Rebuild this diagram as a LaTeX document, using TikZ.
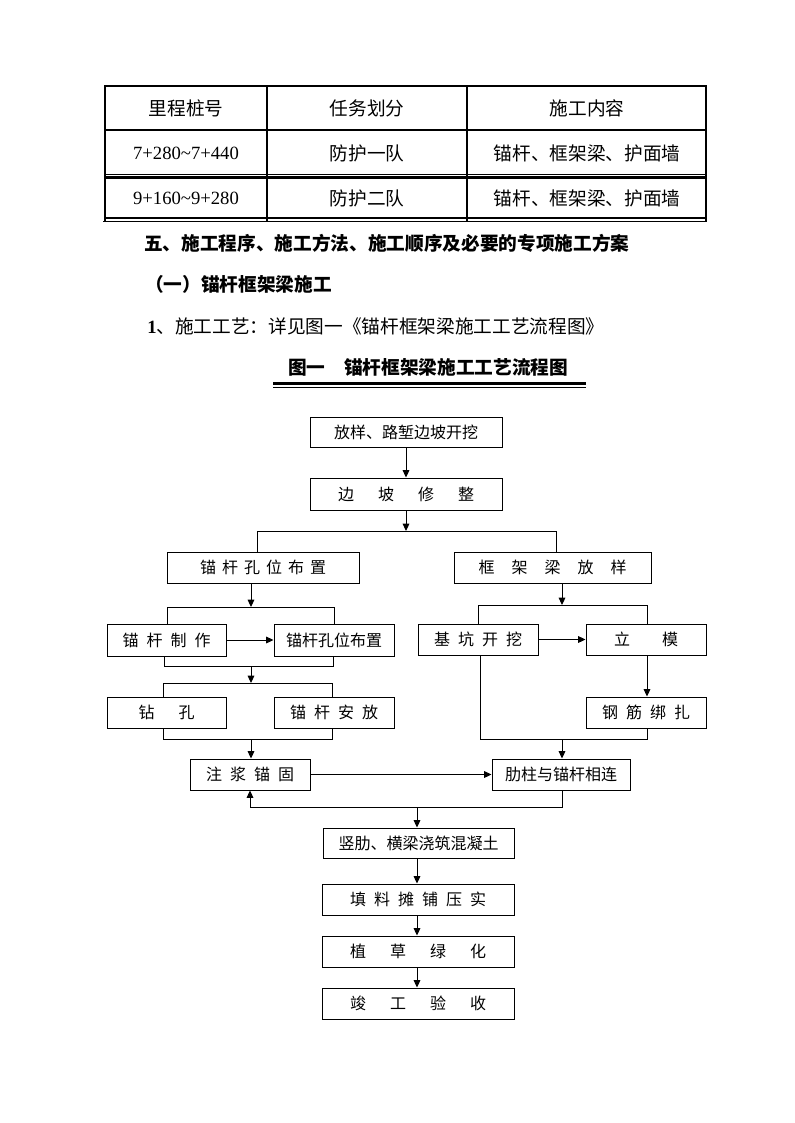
\documentclass[tikz,border=0pt]{standalone}
\usepackage{fontspec}
\setmainfont{Liberation Serif}
\newfontfamily\cjk{Noto Sans CJK SC}
\usetikzlibrary{arrows.meta,calc}
\begin{document}
\begin{tikzpicture}[x=0.75pt,y=-0.75pt,
  box/.style={draw,line width=0.75pt,inner sep=0pt,minimum height=23.25pt,font=\cjk\fontsize{12}{14}\selectfont},
  ln/.style={line width=0.75pt},
  arr/.style={line width=0.75pt,-{Triangle[length=5.5pt,width=5pt]}},
  tcell/.style={inner sep=0pt,font=\cjk\fontsize{14}{16}\selectfont},
  tnum/.style={inner sep=0pt,font=\rmfamily\fontsize{14}{16}\selectfont},
  thick1/.style={line width=1.6pt},
  thin1/.style={line width=0.7pt},
  head/.style={anchor=west,inner sep=0pt,font=\cjk\bfseries\fontsize{14}{16}\selectfont},
]
\useasboundingbox[fill=white] (0,0) rectangle (794,1123);

% ---------------- table ----------------
\draw[thick1] (105,86) -- (706,86);
\draw[thick1] (105,130) -- (706,130);
\draw[thin1] (105,174) -- (706,174);
\draw[thick1] (105,177.5) -- (706,177.5);
\draw[thick1] (105,218) -- (706,218);
\draw[thin1] (103,221.5) -- (706.8,221.5);
\foreach \xx in {105,267,467,706} \draw[thick1] (\xx,85.2) -- (\xx,221.5);

\node[tcell] (t11) at (186,108) {里程桩号};
\node[tcell] (t12) at (367,108) {任务划分};
\node[tcell] (t13) at (587,108) {施工内容};
\node[tnum] (t21) at (186,153) {7+280\textasciitilde7+440};
\node[tcell] (t22) at (367,153) {防护一队};
\node[tcell] (t23) at (587,153) {锚杆、框架梁、护面墙};
\node[tnum] (t31) at (186,198) {9+160\textasciitilde9+280};
\node[tcell] (t32) at (367,198) {防护二队};
\node[tcell] (t33) at (587,198) {锚杆、框架梁、护面墙};

% ---------------- headings ----------------
\node[head] (h1) at (144,243) {五、施工程序、施工方法、施工顺序及必要的专项施工方案};
\node[head] (h2) at (145,284) {（一）锚杆框架梁施工};
\node[anchor=west,inner sep=0pt,font=\cjk\fontsize{14}{16}\selectfont] (h3) at (147,326) {{\rmfamily\bfseries 1}、施工工艺：详见图一《锚杆框架梁施工工艺流程图》};
\node[inner sep=0pt,font=\cjk\bfseries\fontsize{14}{16}\selectfont] (title) at (428,367) {图一\hspace{14pt}锚杆框架梁施工工艺流程图};
\draw[line width=2.2pt] (273,383.5) -- (586,383.5);
\draw[line width=0.75pt] (273,387.8) -- (586,387.8);

% ---------------- flowchart boxes ----------------
\node[box,minimum width=144pt,minimum height=22.5pt] (b1) at (406,432) {放样、路堑边坡开挖};
\node[box,minimum width=144pt,minimum height=24pt] (b2) at (406,494) {边\hspace{18pt}坡\hspace{18pt}修\hspace{18pt}整};
\node[box,minimum width=144pt] (b3) at (263,567.5) {锚\hspace{4.5pt}杆\hspace{4.5pt}孔\hspace{4.5pt}位\hspace{4.5pt}布\hspace{4.5pt}置};
\node[box,minimum width=147.75pt] (b4) at (552.5,567.5) {框\hspace{12.75pt}架\hspace{12.75pt}梁\hspace{12.75pt}放\hspace{12.75pt}样};
\node[box,minimum width=89.25pt,minimum height=24pt] (b5) at (166.5,640) {锚\hspace{6pt}杆\hspace{6pt}制\hspace{6pt}作};
\node[box,minimum width=90pt,minimum height=24pt] (b6) at (334,640) {锚杆孔位布置};
\node[box,minimum width=89.25pt] (b7) at (166.5,712.5) {钻\hspace{18pt}孔};
\node[box,minimum width=90pt] (b8) at (334,712.5) {锚\hspace{6pt}杆\hspace{6pt}安\hspace{6pt}放};
\node[box,minimum width=90pt] (b9) at (478,639.5) {基\hspace{6pt}坑\hspace{6pt}开\hspace{6pt}挖};
\node[box,minimum width=90pt] (b10) at (646,639.5) {立\hspace{24pt}模};
\node[box,minimum width=90pt] (b11) at (646,712.5) {钢\hspace{6pt}筋\hspace{6pt}绑\hspace{6pt}扎};
\node[box,minimum width=90pt] (b12) at (250,774.5) {注\hspace{6pt}浆\hspace{6pt}锚\hspace{6pt}固};
\node[box,minimum width=103.5pt] (b13) at (561,774.5) {肋柱与锚杆相连};
\node[box,minimum width=143.25pt,minimum height=22.5pt] (b14) at (418.5,843) {竖肋、横梁浇筑混凝土};
\node[box,minimum width=144pt] (b15) at (418,899.5) {填\hspace{6pt}料\hspace{6pt}摊\hspace{6pt}铺\hspace{6pt}压\hspace{6pt}实};
\node[box,minimum width=144pt] (b16) at (418,951.5) {植\hspace{18pt}草\hspace{18pt}绿\hspace{18pt}化};
\node[box,minimum width=144pt] (b17) at (418,1003.5) {竣\hspace{18pt}工\hspace{18pt}验\hspace{18pt}收};

% ---------------- junction coordinates ----------------
\coordinate (j1) at (406,531);
\coordinate (j1L) at (257,531);
\coordinate (j1R) at (556,531);

\coordinate (j2) at (251,607);
\coordinate (j2L) at (167,607);
\coordinate (j2R) at (334,607);
\coordinate (j3) at (251,666);
\coordinate (j3L) at (164,666);
\coordinate (j3R) at (333,666);
\coordinate (j4) at (251,683);
\coordinate (j4L) at (163,683);
\coordinate (j4R) at (332,683);
\coordinate (j5) at (251,739);
\coordinate (j5L) at (163,739);
\coordinate (j5R) at (332,739);

\coordinate (k1) at (562,605);
\coordinate (k1L) at (478,605);
\coordinate (k1R) at (647,605);
\coordinate (k2) at (562,739);
\coordinate (k2L) at (480,739);
\coordinate (k2R) at (647,739);

\coordinate (m1) at (562,807);
\coordinate (m1L) at (250,807);
\coordinate (m2) at (417,807);

% ---------------- connectors ----------------
\draw[arr] (b1.south) -- (b2.north);
\draw[arr] (b2.south) -- (j1);
\draw[ln] (j1L |- b3.north) -- (j1L) -- (j1R) -- (j1R |- b4.north);

% left branch
\draw[arr] (j2 |- b3.south) -- (j2);
\draw[ln] (j2L |- b5.north) -- (j2L) -- (j2R) -- (j2R |- b6.north);
\draw[arr] (b5.east) -- (b6.west);
\draw[ln] (j3L |- b5.south) -- (j3L) -- (j3R) -- (j3R |- b6.south);
\draw[arr] (j3) -- (j4);
\draw[ln] (j4L |- b7.north) -- (j4L) -- (j4R) -- (j4R |- b8.north);
\draw[ln] (j5L |- b7.south) -- (j5L) -- (j5R) -- (j5R |- b8.south);
\draw[arr] (j5) -- (j5 |- b12.north);

% right branch
\draw[arr] (k1 |- b4.south) -- (k1);
\draw[ln] (k1L |- b9.north) -- (k1L) -- (k1R) -- (k1R |- b10.north);
\draw[arr] (b9.east) -- (b10.west);
\draw[arr] (k1R |- b10.south) -- (k1R |- b11.north);
\draw[ln] (k2L |- b9.south) -- (k2L) -- (k2R) -- (k2R |- b11.south);
\draw[arr] (k2) -- (k2 |- b13.north);

% merge
\draw[arr] (b12.east) -- (b13.west);
\draw[arr] (m1 |- b13.south) -- (m1) -- (m1L) -- (m1L |- b12.south);
\draw[arr] (m2) -- (m2 |- b14.north);
\draw[arr] (m2 |- b14.south) -- (m2 |- b15.north);
\draw[arr] (m2 |- b15.south) -- (m2 |- b16.north);
\draw[arr] (m2 |- b16.south) -- (m2 |- b17.north);
\end{tikzpicture}
\end{document}
